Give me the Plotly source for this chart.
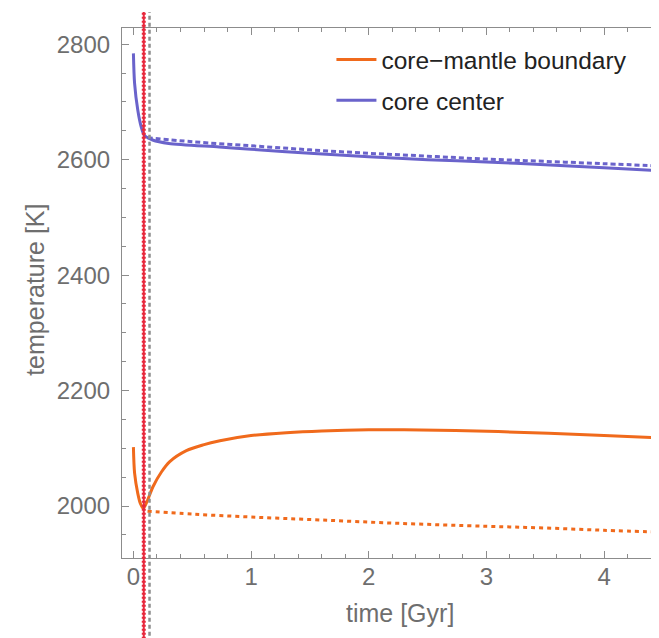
import plotly.graph_objects as go

# ---- data ----
t_center = [0.0, 0.01, 0.037, 0.066, 0.094, 0.163, 0.3, 0.73, 1.0, 1.5, 2.0, 2.5, 3.0, 3.5, 4.0, 4.47]
T_center = [2784, 2732, 2686, 2657, 2642, 2634, 2628, 2622, 2618, 2611, 2605, 2600, 2596, 2591, 2586, 2581]

t_center_d = [0.12, 0.5, 1.0, 1.5, 2.0, 2.5, 3.0, 3.5, 4.0, 4.47]
T_center_d = [2638, 2631, 2624, 2617, 2611, 2606, 2601, 2597, 2593, 2589]

t_cmb = [0.0, 0.01, 0.037, 0.06, 0.085, 0.12, 0.165, 0.238, 0.309, 0.45, 0.593, 0.735,
         1.0, 1.3, 1.6, 2.0, 2.3, 3.1, 4.0, 4.47]
T_cmb = [2102, 2057, 2022, 2004, 1996, 2010, 2033, 2059, 2077, 2096, 2106, 2113,
         2122, 2127, 2130, 2132, 2132, 2129, 2122, 2118]

t_cmb_d = [0.12, 0.5, 1.0, 1.58, 2.26, 3.0, 3.5, 4.0, 4.47]
T_cmb_d = [1991, 1986, 1981, 1976, 1970, 1965, 1962, 1958, 1955]

t_marker_red = 0.088
t_marker_gray = 0.137

x_ticks = [0, 1, 2, 3, 4]
y_ticks = [2000, 2200, 2400, 2600, 2800]

ORANGE = "#f06a1c"
BLUE = "#6a63cb"
FONT = "Liberation Sans"

fig = go.Figure()

fig.add_trace(go.Scatter(x=t_cmb, y=T_cmb, mode="lines", name="core\u2212mantle boundary",
                         line=dict(color=ORANGE, width=3, shape="spline", smoothing=0.8),
                         legendgroup="a"))
fig.add_trace(go.Scatter(x=t_center, y=T_center, mode="lines", name="core center",
                         line=dict(color=BLUE, width=3, shape="spline", smoothing=0.8),
                         legendgroup="b"))
fig.add_trace(go.Scatter(x=t_cmb_d, y=T_cmb_d, mode="lines", showlegend=False,
                         line=dict(color=ORANGE, width=3, dash="4px,4px", shape="spline")))
fig.add_trace(go.Scatter(x=t_center_d, y=T_center_d, mode="lines", showlegend=False,
                         line=dict(color=BLUE, width=3, dash="5px,3px", shape="spline")))
# invisible trace to carry the top frame axis
fig.add_trace(go.Scatter(x=[0], y=[2400], xaxis="x2", mode="lines", showlegend=False,
                         hoverinfo="skip", line=dict(color="rgba(0,0,0,0)")))

# vertical marker lines
fig.add_shape(type="line", xref="x", yref="paper", x0=t_marker_gray, x1=t_marker_gray,
              y0=-0.16, y1=1.03, layer="above",
              line=dict(color="#8f8f8f", width=2.5, dash="4px,3px"))
fig.add_shape(type="line", xref="x", yref="paper", x0=t_marker_red, x1=t_marker_red,
              y0=-0.16, y1=1.03, layer="above",
              line=dict(color="#e8283c", width=2))
fig.add_shape(type="line", xref="x", yref="paper", x0=t_marker_red, x1=t_marker_red,
              y0=-0.16, y1=1.03, layer="above",
              line=dict(color="#e8283c", width=4, dash="2px,2px"))

axis_gray = "#8c8c8c"
label_gray = "#6e6e6e"

# the page body adds an 8 px offset, so the figure is 8 px smaller on each side
fig.update_layout(
    width=651, height=630,
    margin=dict(l=114, r=0, t=20, b=80, autoexpand=False),
    paper_bgcolor="white", plot_bgcolor="white",
    font=dict(family=FONT, size=24, color=label_gray),
    xaxis=dict(range=[-0.097, 4.467], showgrid=False, zeroline=False,
               showline=True, linecolor=axis_gray, linewidth=1.2,
               tickvals=x_ticks, ticks="inside", ticklen=7, tickcolor=axis_gray,
               minor=dict(dtick=0.2, ticks="inside", ticklen=4, tickcolor=axis_gray),
               ticklabelstandoff=-3, tickfont=dict(size=24, color=label_gray)),
    xaxis2=dict(overlaying="x", matches="x", side="top", anchor="y", showgrid=False,
                zeroline=False, showline=True, linecolor=axis_gray, linewidth=1.2,
                tickvals=x_ticks, ticks="inside", ticklen=7, tickcolor=axis_gray,
                minor=dict(dtick=0.2, ticks="inside", ticklen=4, tickcolor=axis_gray),
                showticklabels=False),
    yaxis=dict(range=[1910, 2828], showgrid=False, zeroline=False,
               showline=True, linecolor=axis_gray, linewidth=1.2,
               tickvals=y_ticks, ticks="inside", ticklen=7, tickcolor=axis_gray,
               minor=dict(dtick=50, ticks="inside", ticklen=4, tickcolor=axis_gray),
               ticklabelstandoff=6, tickfont=dict(size=24, color=label_gray)),
    legend=dict(x=0.39, y=0.983, xanchor="left", yanchor="top",
                bgcolor="rgba(0,0,0,0)", font=dict(size=24.5, color="#222222", family=FONT),
                traceorder="grouped", tracegroupgap=6, itemwidth=40),
    showlegend=True,
)

fig.add_annotation(text="time [Gyr]", xref="paper", yref="paper", x=0.518, y=-0.103,
                   xanchor="center", yanchor="middle", showarrow=False,
                   font=dict(size=25, color=label_gray, family=FONT))
fig.add_annotation(text="temperature [K]", xref="paper", yref="paper", x=-0.162, y=0.506,
                   xanchor="center", yanchor="middle", showarrow=False, textangle=-90,
                   font=dict(size=25, color=label_gray, family=FONT))

fig.write_html("out.html")
